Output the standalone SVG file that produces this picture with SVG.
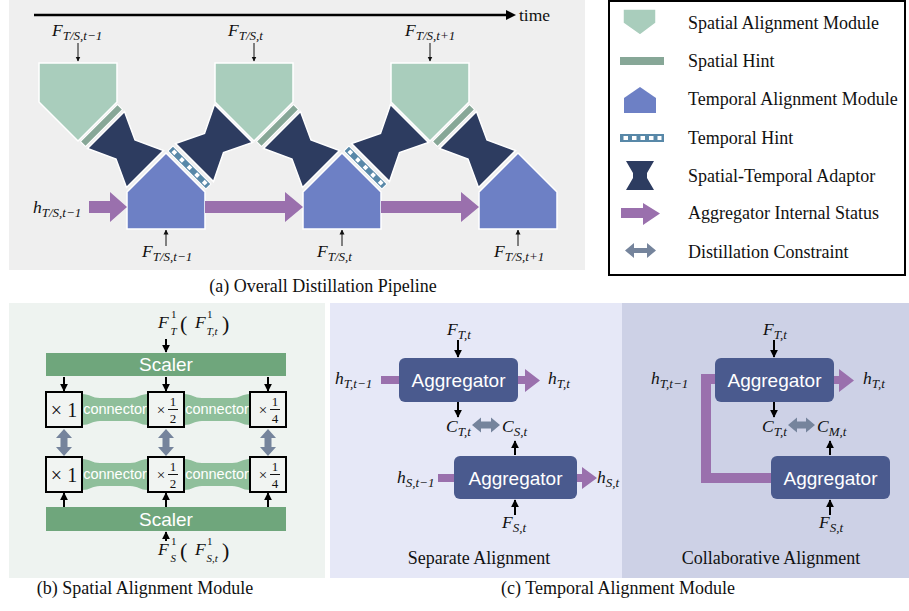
<svg xmlns="http://www.w3.org/2000/svg" width="909" height="611" viewBox="0 0 909 611">
<style>
.it{font-family:"Liberation Serif","Times New Roman",serif;font-style:italic;fill:#111;font-size:17.5px}
.sb{font-size:13px}
.rm{font-family:"Liberation Serif","Times New Roman",serif;fill:#111}
.cap{font-family:"Liberation Serif","Times New Roman",serif;font-size:18px;fill:#111}
.lg{font-family:"Liberation Serif","Times New Roman",serif;font-size:18px;fill:#111}
.sam{fill:#a9cdbc;stroke:#fff;stroke-width:1.5}
.shint{fill:#87a797;stroke:#fff;stroke-width:1}
.tam{fill:#6d80c5;stroke:#fff;stroke-width:1.5}
.thint{fill:#5888a8;stroke:#fff;stroke-width:1}
.sq{fill:#fff}
.ada{fill:#2d3c60;stroke:#fff;stroke-width:1.5}
.pu{fill:#9a70ad}
.agg{fill:#4a5a8e}
.aggt{font-family:"Liberation Sans",Arial,sans-serif;font-size:19px;fill:#fff;text-anchor:middle}
.dc{fill:#75849c}
.thin{stroke:#111;stroke-width:1;fill:none}
.ar{stroke:#000;stroke-width:2;fill:none}
.box{fill:#f1f4f2;stroke:#000;stroke-width:2}
.scaler{fill:#6fa67c}
.sct{font-family:"Liberation Sans",Arial,sans-serif;font-size:19px;fill:#fff;text-anchor:middle}
.conn{fill:#8fbf9b}
.cnt{font-family:"Liberation Sans",Arial,sans-serif;font-size:14.5px;fill:#fff;text-anchor:middle}
.ss{font-size:11px}
.up{font-style:normal}
</style>
<defs>
<marker id="hs" viewBox="0 0 10 10" refX="9" refY="5" markerWidth="5" markerHeight="6" markerUnits="userSpaceOnUse" orient="auto"><path d="M0,0L10,5L0,10z" fill="#111"/></marker>
<marker id="hb" viewBox="0 0 10 10" refX="9" refY="5" markerWidth="8" markerHeight="8" markerUnits="userSpaceOnUse" orient="auto"><path d="M0,0L10,5L0,10z" fill="#000"/></marker>
<polygon id="ada1" points="87.5,148.5 124.5,111.5 135,140 163.5,150.5 126.5,187.5 116,159"/>
<polygon id="ada2" points="175.5,143.5 213.5,181.5 223.5,152.5 252.5,142.5 214.5,104.5 204.5,133.5"/>
<polygon id="spent" points="39,63 117,63 117,102 78,141 39,102"/>
<polygon id="tpent" points="127,229 127,192 166,153 205,192 205,229"/>
<g id="sh"><rect x="-26.2" y="-3.5" width="52.3" height="7.1" transform="translate(101.5,125.5) rotate(-45)"/></g>
<g id="th"><g transform="translate(189.5,167.5) rotate(45)"><rect class="thint" x="-26.9" y="-3.5" width="53.7" height="7.1"/><rect class="sq" x="-23.5" y="-2" width="4" height="4"/><rect class="sq" x="-12.75" y="-2" width="4" height="4"/><rect class="sq" x="-2" y="-2" width="4" height="4"/><rect class="sq" x="8.75" y="-2" width="4" height="4"/><rect class="sq" x="19.5" y="-2" width="4" height="4"/></g></g>
</defs>

<!-- Panel backgrounds -->
<rect x="9" y="0" width="576" height="270" fill="#efefef"/>
<rect x="9" y="303" width="316" height="275" fill="#eef3f0"/>
<rect x="330" y="303" width="292" height="275" fill="#e6e8f7"/>
<rect x="622" y="303" width="287" height="275" fill="#cdd1e6"/>

<!-- Panel (a) -->
<g id="time-axis">
<line x1="34" y1="15" x2="508" y2="15" stroke="#000" stroke-width="2.5"/>
<polygon points="506,10 516,15 506,20" fill="#000"/>
<text class="rm" x="519" y="21" font-size="17.5">time</text>
</g>

<g id="spatial-1"><use href="#spent" class="sam"/><use href="#sh" class="shint"/></g>
<g id="spatial-2" transform="translate(176,0)"><use href="#spent" class="sam"/><use href="#sh" class="shint"/></g>
<g id="spatial-3" transform="translate(352,0)"><use href="#spent" class="sam"/><use href="#sh" class="shint"/></g>

<g id="temporal-1"><use href="#tpent" class="tam"/><use href="#th"/></g>
<g id="temporal-2" transform="translate(176,0)"><use href="#tpent" class="tam"/><use href="#th"/></g>
<g id="temporal-3" transform="translate(352,0)"><use href="#tpent" class="tam"/></g>

<g id="adaptor-1"><use href="#ada1" class="ada"/></g>
<g id="adaptor-2"><use href="#ada2" class="ada"/></g>
<g id="adaptor-3" transform="translate(176,0)"><use href="#ada1" class="ada"/></g>
<g id="adaptor-4" transform="translate(176,0)"><use href="#ada2" class="ada"/></g>
<g id="adaptor-5" transform="translate(352,0)"><use href="#ada1" class="ada"/></g>

<g id="connectors-a">
<polygon class="pu" points="89,201 110,201 110,192 127,207 110,222 110,213 89,213"/>
<polygon class="pu" points="205,201 285,201 285,192 303,207 285,222 285,213 205,213"/>
<polygon class="pu" points="381,201 461,201 461,192 479,207 461,222 461,213 381,213"/>
<line class="thin" x1="78" y1="43" x2="78" y2="61" marker-end="url(#hs)"/>
<line class="thin" x1="254" y1="43" x2="254" y2="61" marker-end="url(#hs)"/>
<line class="thin" x1="430" y1="43" x2="430" y2="61" marker-end="url(#hs)"/>
<line class="thin" x1="166" y1="246" x2="166" y2="230" marker-end="url(#hs)"/>
<line class="thin" x1="342" y1="246" x2="342" y2="230" marker-end="url(#hs)"/>
<line class="thin" x1="518" y1="246" x2="518" y2="230" marker-end="url(#hs)"/>
</g>

<g id="labels-a">
<text class="it" x="52" y="36">F<tspan class="sb" dy="4">T/S,t−1</tspan></text>
<text class="it" x="228" y="36">F<tspan class="sb" dy="4">T/S,t</tspan></text>
<text class="it" x="405" y="36">F<tspan class="sb" dy="4">T/S,t+1</tspan></text>
<text class="it" x="142" y="257">F<tspan class="sb" dy="4">T/S,t−1</tspan></text>
<text class="it" x="317" y="257">F<tspan class="sb" dy="4">T/S,t</tspan></text>
<text class="it" x="494" y="257">F<tspan class="sb" dy="4">T/S,t+1</tspan></text>
<text class="it" x="33" y="213">h<tspan class="sb" dy="4">T/S,t−1</tspan></text>
</g>

<!-- Legend -->
<g id="legend">
<rect x="609" y="1" width="296" height="274" fill="#fff" stroke="#000" stroke-width="2"/>
<polygon class="sam" stroke="none" points="623,9 656,9 656,23 640,35 623,23"/>
<rect x="620" y="57" width="44" height="8" fill="#87a797"/>
<polygon fill="#6d80c5" points="624,98 640,87 656,98 656,113 624,113"/>
<rect x="620" y="134" width="44" height="8" fill="#5888a8"/>
<rect class="sq" x="623.5" y="136" width="4.5" height="4"/><rect class="sq" x="632" y="136" width="4.5" height="4"/><rect class="sq" x="640.5" y="136" width="4.5" height="4"/><rect class="sq" x="649" y="136" width="4.5" height="4"/><rect class="sq" x="657.5" y="136" width="4" height="4"/>
<polygon fill="#2d3c60" points="626,161 654,161 647,173 647,178 654,190 626,190 633,178 633,173"/>
<polygon class="pu" points="621,208 643,208 643,203 660,213.5 643,225 643,218 621,218"/>
<polygon class="dc" points="625,250.5 634,243 634,248 647,248 647,243 656,250.5 647,258 647,253 634,253 634,258"/>
<text class="lg" x="688" y="29">Spatial Alignment Module</text>
<text class="lg" x="688" y="67">Spatial Hint</text>
<text class="lg" x="688" y="105">Temporal Alignment Module</text>
<text class="lg" x="688" y="144">Temporal Hint</text>
<text class="lg" x="688" y="182">Spatial-Temporal Adaptor</text>
<text class="lg" x="688" y="219">Aggregator Internal Status</text>
<text class="lg" x="688" y="258">Distillation Constraint</text>
</g>

<text class="cap" x="323" y="292" text-anchor="middle">(a) Overall Distillation Pipeline</text>

<!-- Panel (b) -->
<g id="scaler-top"><rect class="scaler" x="46" y="353" width="240" height="23"/><text class="sct" x="166" y="371">Scaler</text></g>
<g id="scaler-bottom"><rect class="scaler" x="46" y="507" width="240" height="24"/><text class="sct" x="166" y="526">Scaler</text></g>

<g id="connectors-b-shapes">
<path class="conn" d="M82,394 C90,394 92,398 100,398 L130,398 C138,398 140,394 148,394 L148,425 C140,425 138,421 130,421 L100,421 C92,421 90,425 82,425 Z"/>
<path class="conn" d="M184,394 C192,394 194,398 202,398 L232,398 C240,398 242,394 250,394 L250,425 C242,425 240,421 232,421 L202,421 C194,421 192,425 184,425 Z"/>
<path class="conn" d="M82,459 C90,459 92,463 100,463 L130,463 C138,463 140,459 148,459 L148,490 C140,490 138,486 130,486 L100,486 C92,486 90,490 82,490 Z"/>
<path class="conn" d="M184,459 C192,459 194,463 202,463 L232,463 C240,463 242,459 250,459 L250,490 C242,490 240,486 232,486 L202,486 C194,486 192,490 184,490 Z"/>
<text class="cnt" x="115" y="414">connector</text>
<text class="cnt" x="217" y="414">connector</text>
<text class="cnt" x="115" y="479">connector</text>
<text class="cnt" x="217" y="479">connector</text>
</g>

<g id="box-t1"><rect class="box" x="46" y="392" width="36" height="35"/><text class="rm" x="64" y="417" font-size="20" text-anchor="middle">× 1</text></g>
<g id="box-t2"><rect class="box" x="148" y="392" width="36" height="35"/><text class="rm" x="161" y="415" font-size="15" text-anchor="middle">×</text><text class="rm" x="173" y="406" font-size="13" text-anchor="middle">1</text><line x1="168" y1="409.5" x2="178" y2="409.5" stroke="#111" stroke-width="1"/><text class="rm" x="173" y="423" font-size="13" text-anchor="middle">2</text></g>
<g id="box-t3"><rect class="box" x="250" y="392" width="36" height="35"/><text class="rm" x="263" y="415" font-size="15" text-anchor="middle">×</text><text class="rm" x="275" y="406" font-size="13" text-anchor="middle">1</text><line x1="270" y1="409.5" x2="280" y2="409.5" stroke="#111" stroke-width="1"/><text class="rm" x="275" y="423" font-size="13" text-anchor="middle">4</text></g>
<g id="box-s1"><rect class="box" x="46" y="457" width="36" height="35"/><text class="rm" x="64" y="482" font-size="20" text-anchor="middle">× 1</text></g>
<g id="box-s2"><rect class="box" x="148" y="457" width="36" height="35"/><text class="rm" x="161" y="480" font-size="15" text-anchor="middle">×</text><text class="rm" x="173" y="471" font-size="13" text-anchor="middle">1</text><line x1="168" y1="474.5" x2="178" y2="474.5" stroke="#111" stroke-width="1"/><text class="rm" x="173" y="488" font-size="13" text-anchor="middle">2</text></g>
<g id="box-s3"><rect class="box" x="250" y="457" width="36" height="35"/><text class="rm" x="263" y="480" font-size="15" text-anchor="middle">×</text><text class="rm" x="275" y="471" font-size="13" text-anchor="middle">1</text><line x1="270" y1="474.5" x2="280" y2="474.5" stroke="#111" stroke-width="1"/><text class="rm" x="275" y="488" font-size="13" text-anchor="middle">4</text></g>

<g id="connectors-b">
<line class="ar" x1="166" y1="339" x2="166" y2="352" marker-end="url(#hb)"/>
<line class="ar" x1="64" y1="377" x2="64" y2="391" marker-end="url(#hb)"/>
<line class="ar" x1="166" y1="377" x2="166" y2="391" marker-end="url(#hb)"/>
<line class="ar" x1="268" y1="377" x2="268" y2="391" marker-end="url(#hb)"/>
<line class="ar" x1="64" y1="507" x2="64" y2="493" marker-end="url(#hb)"/>
<line class="ar" x1="166" y1="507" x2="166" y2="493" marker-end="url(#hb)"/>
<line class="ar" x1="268" y1="507" x2="268" y2="493" marker-end="url(#hb)"/>
<line class="ar" x1="166" y1="541" x2="166" y2="532" marker-end="url(#hb)"/>
<polygon class="dc" points="64,429 72,438 67.5,438 67.5,447 72,447 64,456 56,447 60.5,447 60.5,438 56,438"/>
<polygon class="dc" points="166,429 174,438 169.5,438 169.5,447 174,447 166,456 158,447 162.5,447 162.5,438 158,438"/>
<polygon class="dc" points="268,429 276,438 271.5,438 271.5,447 276,447 268,456 260,447 264.5,447 264.5,438 260,438"/>
</g>

<g id="labels-b">
<text class="it" x="158" y="328">F<tspan class="ss up" x="171" y="318">1</tspan><tspan class="ss" x="170.5" y="335">T</tspan></text>
<text class="rm" x="180" y="331" font-size="22">(</text>
<text class="it" x="195" y="328">F<tspan class="ss up" x="207" y="318">1</tspan><tspan class="ss" x="206.5" y="335">T,t</tspan></text>
<text class="rm" x="222" y="331" font-size="22">)</text>
<text class="it" x="158" y="555">F<tspan class="ss up" x="171" y="545">1</tspan><tspan class="ss" x="170.5" y="562">S</tspan></text>
<text class="rm" x="180" y="558" font-size="22">(</text>
<text class="it" x="195" y="555">F<tspan class="ss up" x="207" y="545">1</tspan><tspan class="ss" x="206.5" y="562">S,t</tspan></text>
<text class="rm" x="222" y="558" font-size="22">)</text>
</g>

<text class="cap" x="145" y="594" text-anchor="middle">(b) Spatial Alignment Module</text>

<!-- Panel (c) -->
<g id="agg-sep-T"><rect class="agg" x="399" y="358" width="119" height="44" rx="6"/><text class="aggt" x="458.5" y="387">Aggregator</text></g>
<g id="agg-sep-S"><rect class="agg" x="454" y="456" width="123" height="43" rx="6"/><text class="aggt" x="515.5" y="485">Aggregator</text></g>
<g id="agg-col-T"><rect class="agg" x="715" y="358" width="119" height="44" rx="6"/><text class="aggt" x="774.5" y="387">Aggregator</text></g>
<g id="agg-col-M"><rect class="agg" x="771" y="456" width="119" height="43" rx="6"/><text class="aggt" x="830.5" y="485">Aggregator</text></g>

<g id="connectors-c">
<rect class="pu" x="381" y="376" width="18" height="8"/>
<polygon class="pu" points="518,376 525,376 525,369 540,380.5 525,392 525,384 518,384"/>
<rect class="pu" x="438" y="474" width="16" height="8"/>
<polygon class="pu" points="577,474 582,474 582,467 597,478 582,489 582,482 577,482"/>
<path d="M771,478 H706 V379 H715" fill="none" stroke="#9a70ad" stroke-width="10"/>
<polygon class="pu" points="834,376 839,376 839,369 854,380.5 839,392 839,384 834,384"/>
<line class="ar" x1="458" y1="340" x2="458" y2="357" marker-end="url(#hb)"/>
<line class="ar" x1="458" y1="402" x2="458" y2="417" marker-end="url(#hb)"/>
<line class="ar" x1="515" y1="455" x2="515" y2="441" marker-end="url(#hb)"/>
<line class="ar" x1="515" y1="515" x2="515" y2="500" marker-end="url(#hb)"/>
<line class="ar" x1="774" y1="340" x2="774" y2="357" marker-end="url(#hb)"/>
<line class="ar" x1="774" y1="402" x2="774" y2="417" marker-end="url(#hb)"/>
<line class="ar" x1="830" y1="455" x2="830" y2="441" marker-end="url(#hb)"/>
<line class="ar" x1="830" y1="515" x2="830" y2="500" marker-end="url(#hb)"/>
<polygon class="dc" points="472,425 481,417.5 481,421.5 491,421.5 491,417.5 500,425 491,432.5 491,428.5 481,428.5 481,432.5"/>
<polygon class="dc" points="788,425 797,417.5 797,421.5 806,421.5 806,417.5 815,425 806,432.5 806,428.5 797,428.5 797,432.5"/>
</g>

<g id="labels-c">
<text class="it" x="335" y="384">h<tspan class="sb" dy="4">T,t−1</tspan></text>
<text class="it" x="447" y="335">F<tspan class="sb" dy="4">T,t</tspan></text>
<text class="it" x="548" y="384">h<tspan class="sb" dy="4">T,t</tspan></text>
<text class="it" x="446" y="432">C<tspan class="sb" dy="4">T,t</tspan></text>
<text class="it" x="502" y="432">C<tspan class="sb" dy="4">S,t</tspan></text>
<text class="it" x="397" y="483">h<tspan class="sb" dy="4">S,t−1</tspan></text>
<text class="it" x="597" y="483">h<tspan class="sb" dy="4">S,t</tspan></text>
<text class="it" x="502" y="528">F<tspan class="sb" dy="4">S,t</tspan></text>
<text class="cap" x="479" y="564" text-anchor="middle">Separate Alignment</text>
<text class="it" x="651" y="384">h<tspan class="sb" dy="4">T,t−1</tspan></text>
<text class="it" x="763" y="335">F<tspan class="sb" dy="4">T,t</tspan></text>
<text class="it" x="863" y="384">h<tspan class="sb" dy="4">T,t</tspan></text>
<text class="it" x="762" y="432">C<tspan class="sb" dy="4">T,t</tspan></text>
<text class="it" x="817" y="432">C<tspan class="sb" dy="4">M,t</tspan></text>
<text class="it" x="819" y="528">F<tspan class="sb" dy="4">S,t</tspan></text>
<text class="cap" x="771" y="564" text-anchor="middle">Collaborative Alignment</text>
</g>

<text class="cap" x="618" y="594" text-anchor="middle">(c) Temporal Alignment Module</text>
</svg>
